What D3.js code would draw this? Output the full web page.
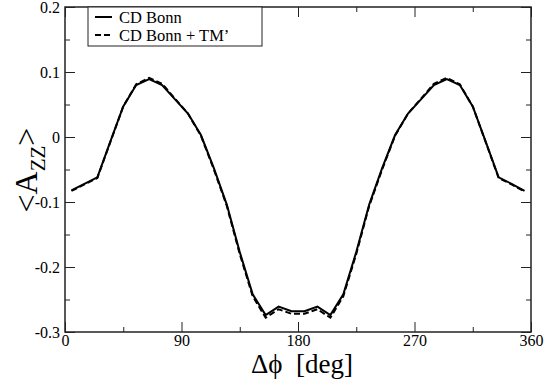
<!DOCTYPE html>
<html>
<head>
<meta charset="utf-8">
<script src="https://cdn.jsdelivr.net/npm/d3@7"></script>
<style>
  body { margin: 0; background: #fff; }
  svg text { font-family: "Liberation Serif", "Times New Roman", serif; fill: #000; }
</style>
</head>
<body>
<div id="chart"></div>
<script>
var svgWidth = 545;
var svgHeight = 379;

var margin = { top: 7, right: 14, bottom: 47, left: 65 };

var width = svgWidth - margin.left - margin.right;
var height = svgHeight - margin.top - margin.bottom;

// data: angle in degrees, asymmetry <A_zz>
var angles = [5, 15, 25, 35, 45, 55, 65, 75, 85, 95, 105, 115, 125, 135, 145, 155, 165, 175,
              185, 195, 205, 215, 225, 235, 245, 255, 265, 275, 285, 295, 305, 315, 325, 335, 345, 355];

var cdBonn = [-0.082, -0.072, -0.062, -0.007, 0.047, 0.080, 0.089, 0.080, 0.058, 0.036, 0.003, -0.048,
              -0.104, -0.177, -0.242, -0.274, -0.261, -0.268,
              -0.268, -0.261, -0.274, -0.242, -0.177, -0.104, -0.048, 0.003, 0.036, 0.058, 0.080, 0.089,
              0.080, 0.047, -0.007, -0.062, -0.072, -0.083];

var cdBonnTM = [-0.083, -0.073, -0.063, -0.008, 0.047, 0.081, 0.091, 0.082, 0.059, 0.036, 0.002, -0.050,
                -0.106, -0.180, -0.245, -0.278, -0.265, -0.272,
                -0.272, -0.265, -0.278, -0.245, -0.180, -0.106, -0.050, 0.002, 0.036, 0.059, 0.082, 0.091,
                0.081, 0.047, -0.008, -0.063, -0.073, -0.084];

var xTicks = [0, 90, 180, 270, 360];
var xMinorTicks = [45, 135, 225, 315];
var yTicks = [-0.3, -0.2, -0.1, 0, 0.1, 0.2];
var yTickLabels = ["-0.3", "-0.2", "-0.1", "0", "0.1", "0.2"];
var yMinorTicks = [-0.25, -0.15, -0.05, 0.05, 0.15];

var legendLabels = ["CD Bonn", "CD Bonn + TM\u2019"];

var serif = "'Liberation Serif', 'Times New Roman', serif";

var svg = d3.select("#chart")
  .append("svg")
  .attr("width", svgWidth)
  .attr("height", svgHeight)
  .attr("font-family", serif);

var chartGroup = svg.append("g")
  .attr("transform", `translate(${margin.left}, ${margin.top})`);

var xScale = d3.scaleLinear().domain([0, 360]).range([0, width]);
var yScale = d3.scaleLinear().domain([-0.3, 0.2]).range([height, 0]);

// frame
chartGroup.append("rect")
  .attr("x", 0).attr("y", 0)
  .attr("width", width).attr("height", height)
  .attr("fill", "none")
  .attr("stroke", "#222")
  .attr("stroke-width", 1.5);

function tickStyle(g) {
  g.attr("font-family", serif).attr("font-size", 16);
  g.select(".domain").remove();
  g.selectAll(".tick line").attr("stroke", "#222").attr("stroke-width", 1);
  g.selectAll(".tick text").attr("font-family", serif).attr("font-size", 16);
}

// bottom axis with labels, ticks pointing inward
chartGroup.append("g")
  .attr("transform", `translate(0, ${height})`)
  .call(d3.axisBottom(xScale).tickValues(xTicks).tickSize(-10).tickPadding(2).tickFormat(d3.format("d")))
  .call(tickStyle)
  .selectAll(".tick text").attr("y", 2).attr("dy", "0.75em");

chartGroup.append("g")
  .attr("transform", `translate(0, ${height})`)
  .call(d3.axisBottom(xScale).tickValues(xMinorTicks).tickSize(-5).tickFormat(""))
  .call(tickStyle);

// top axis ticks
chartGroup.append("g")
  .call(d3.axisTop(xScale).tickValues(xTicks).tickSize(-10).tickFormat(""))
  .call(tickStyle);
chartGroup.append("g")
  .call(d3.axisTop(xScale).tickValues(xMinorTicks).tickSize(-5).tickFormat(""))
  .call(tickStyle);

// left axis
chartGroup.append("g")
  .call(d3.axisLeft(yScale).tickValues(yTicks).tickSize(-10)
    .tickFormat((d, i) => yTickLabels[i]))
  .call(tickStyle)
  .selectAll(".tick text").attr("x", -5);
chartGroup.append("g")
  .call(d3.axisLeft(yScale).tickValues(yMinorTicks).tickSize(-5).tickFormat(""))
  .call(tickStyle);

// right axis ticks
chartGroup.append("g")
  .attr("transform", `translate(${width}, 0)`)
  .call(d3.axisRight(yScale).tickValues(yTicks).tickSize(-10).tickFormat(""))
  .call(tickStyle);
chartGroup.append("g")
  .attr("transform", `translate(${width}, 0)`)
  .call(d3.axisRight(yScale).tickValues(yMinorTicks).tickSize(-5).tickFormat(""))
  .call(tickStyle);

// lines
var line = d3.line()
  .x(d => xScale(d[0]))
  .y(d => yScale(d[1]));

chartGroup.append("path")
  .datum(angles.map((a, i) => [a, cdBonnTM[i]]))
  .attr("d", line)
  .attr("fill", "none")
  .attr("stroke", "#000")
  .attr("stroke-width", 2)
  .attr("stroke-dasharray", "6,3");

chartGroup.append("path")
  .datum(angles.map((a, i) => [a, cdBonn[i]]))
  .attr("d", line)
  .attr("fill", "none")
  .attr("stroke", "#000")
  .attr("stroke-width", 2);

// legend
var legend = chartGroup.append("g")
  .attr("transform", "translate(23, 0)");

legend.append("rect")
  .attr("x", 0).attr("y", 0)
  .attr("width", 174).attr("height", 39)
  .attr("fill", "#fff")
  .attr("stroke", "#222")
  .attr("stroke-width", 1);

legendLabels.forEach(function(label, i) {
  var y = 10 + i * 18;
  legend.append("line")
    .attr("x1", 7).attr("x2", 24)
    .attr("y1", y).attr("y2", y)
    .attr("stroke", "#000")
    .attr("stroke-width", 2)
    .attr("stroke-dasharray", i === 1 ? "6,3" : null);
  legend.append("text")
    .attr("x", 31)
    .attr("y", y + 6)
    .attr("font-size", 16.5)
    .text(label);
});

// axis titles
svg.append("text")
  .attr("x", margin.left + width / 2 + 4)
  .attr("y", 373)
  .attr("text-anchor", "middle")
  .attr("font-size", 27)
  .text("\u0394\u03d5\u00a0\u00a0[deg]");

var yTitle = svg.append("text")
  .attr("transform", `translate(37, 170) rotate(-90)`)
  .attr("text-anchor", "middle")
  .attr("font-size", 32);
yTitle.append("tspan").text("<A");
yTitle.append("tspan").attr("dy", 8).attr("font-size", 21).text("ZZ");
yTitle.append("tspan").attr("dy", -8).text(">");
</script>
</body>
</html>
